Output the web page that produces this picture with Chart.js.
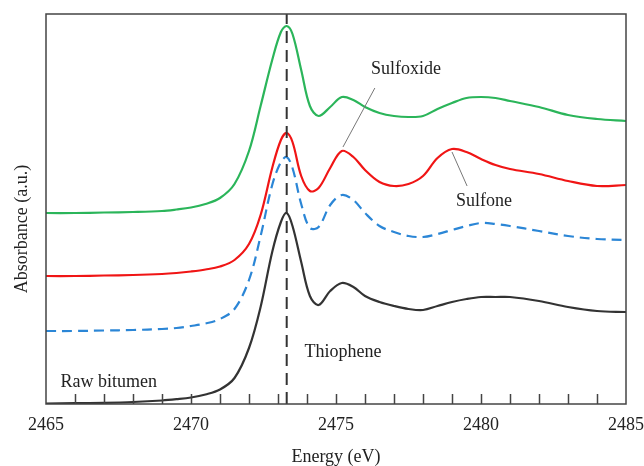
<!DOCTYPE html>
<html>
<head>
<meta charset="utf-8">
<script src="https://cdn.jsdelivr.net/npm/chart.js@4.4.1/dist/chart.umd.min.js"></script>
<style>
  html, body { margin: 0; padding: 0; background: #fff; }
  #c { display: block; }
</style>
</head>
<body>
<canvas id="c" width="644" height="466"></canvas>
<script>
// Energy grid (eV)
const energy = [2465, 2466, 2467, 2468, 2469, 2469.5, 2470, 2470.5, 2471, 2471.5,
  2472, 2472.4, 2472.8, 2473.1, 2473.3, 2473.5, 2473.8, 2474.1, 2474.4, 2474.8,
  2475.2, 2475.6, 2476, 2476.5, 2477, 2477.5, 2478, 2478.5, 2479, 2479.5,
  2480, 2480.5, 2481, 2482, 2483, 2484, 2485];

// Absorbance (a.u., stacked offsets as in figure)
const rawBitumen = [0.5, 0.8, 1.2, 2, 3.5, 4.8, 6.5, 9.5, 14.5, 26,
  56, 97, 152, 182, 191, 178, 142, 108, 99, 113,
  121, 117, 108, 102, 98, 95, 94, 98, 102, 105,
  107, 107, 107, 103, 97, 93, 92];
const dashedSeries = [73, 73, 73.5, 74, 75, 76, 78, 80.5, 85, 95,
  124, 168, 219, 242, 247, 236, 200, 176, 177, 199,
  209, 204, 191, 178, 172, 168, 167, 170, 174, 178,
  181, 180, 178, 173, 168, 165, 164];
const redSeries = [128, 128, 128.5, 129, 130, 131, 132.5, 134.5, 137.5, 144,
  160, 189, 236, 264, 271, 262, 228, 213, 216, 236,
  253, 247, 234, 222, 218, 220, 228, 246, 255, 252,
  245, 239, 235, 230, 223, 218, 219];
const greenSeries = [191, 191, 191.5, 192, 193, 194.5, 196.5, 200, 206, 220,
  253, 298, 344, 372, 378, 370, 334, 298, 288, 297,
  307, 304, 297, 291, 288, 287, 288, 295, 301, 306,
  307, 306, 303, 297, 289, 285, 283];

const thiopheneLine = 2473.3;
const xTickLabels = [2465, 2470, 2475, 2480, 2485];
const minorTicks = [2466,2467,2468,2469,2470,2471,2472,2473,2474,2475,2476,2477,2478,2479,2480,2481,2482,2483,2484];

const yMin = 0, yMax = 390;

const yTitle = 'Absorbance (a.u.)';
const annotations = [
  { text: 'Sulfoxide', x: 2477.41, y: 335 },
  { text: 'Sulfone', x: 2480.10, y: 203 },
  { text: 'Thiophene', x: 2475.24, y: 52 },
  { text: 'Raw bitumen', x: 2467.16, y: 22 }
];
const leaders = [
  { from: [2476.34, 316], to: [2475.24, 257] },
  { from: [2479.0, 252], to: [2479.52, 218] }
];

const toXY = (vals) => energy.map((e, i) => ({ x: e, y: vals[i] }));

const SERIF = '"Liberation Serif", "Times New Roman", serif';

const framePlugin = {
  id: 'frame',
  afterDatasetsDraw(chart) {
    const { ctx, chartArea: a, scales: { x, y } } = chart;
    ctx.save();
    // leader lines
    ctx.strokeStyle = '#777';
    ctx.lineWidth = 1;
    leaders.forEach(l => {
      ctx.beginPath();
      ctx.moveTo(x.getPixelForValue(l.from[0]), y.getPixelForValue(l.from[1]));
      ctx.lineTo(x.getPixelForValue(l.to[0]), y.getPixelForValue(l.to[1]));
      ctx.stroke();
    });
    // frame
    ctx.strokeStyle = '#444';
    ctx.lineWidth = 1.5;
    ctx.strokeRect(a.left, a.top, a.right - a.left, a.bottom - a.top);
    // inward ticks
    ctx.beginPath();
    minorTicks.forEach(v => {
      const px = Math.round(x.getPixelForValue(v)) + 0.5;
      ctx.moveTo(px, a.bottom);
      ctx.lineTo(px, a.bottom - 10);
    });
    ctx.stroke();
    // text annotations
    ctx.fillStyle = '#222';
    ctx.font = '18px ' + SERIF;
    ctx.textAlign = 'center';
    ctx.textBaseline = 'middle';
    annotations.forEach(t => {
      ctx.fillText(t.text, x.getPixelForValue(t.x), y.getPixelForValue(t.y));
    });
    // y-axis title
    ctx.translate(22, (a.top + a.bottom) / 2 + 20);
    ctx.rotate(-Math.PI / 2);
    ctx.font = '18px ' + SERIF;
    ctx.fillText(yTitle, 0, 0);
    ctx.restore();
  }
};

const common = { pointRadius: 0, borderWidth: 2.2, tension: 0.35, fill: false, order: 1 };

new Chart(document.getElementById('c'), {
  type: 'line',
  data: {
    datasets: [
      { label: 'Thiophene position', data: [{ x: thiopheneLine, y: yMin }, { x: thiopheneLine, y: yMax }],
        borderColor: '#333', borderWidth: 2, borderDash: [12, 7], pointRadius: 0, order: 0 },
      Object.assign({ label: 'Oxidized (green)', data: toXY(greenSeries), borderColor: '#2bb55a' }, common),
      Object.assign({ label: 'Oxidized (red)', data: toXY(redSeries), borderColor: '#f01515' }, common),
      Object.assign({ label: 'Dashed', data: toXY(dashedSeries), borderColor: '#2b86d6', borderDash: [10, 6] }, common),
      Object.assign({ label: 'Raw bitumen', data: toXY(rawBitumen), borderColor: '#333333' }, common)
    ]
  },
  options: {
    responsive: false,
    animation: false,
    devicePixelRatio: 1,
    layout: { padding: { left: 0, right: 18, top: 14, bottom: 0 } },
    plugins: { legend: { display: false }, tooltip: { enabled: false } },
    scales: {
      x: {
        type: 'linear', min: 2465, max: 2485,
        afterBuildTicks: (s) => { s.ticks = xTickLabels.map(v => ({ value: v })); },
        afterFit: (s) => { s.height = 62; s.paddingLeft = 0; s.paddingRight = 0; },
        grid: { display: false, drawTicks: false },
        border: { display: false },
        ticks: { padding: 10, color: '#222', font: { family: SERIF, size: 18 }, maxRotation: 0, autoSkip: false,
                 callback: (v) => String(v) },
        title: { display: true, text: 'Energy (eV)', color: '#222', font: { family: SERIF, size: 18, lineHeight: 1 }, padding: { top: 0, bottom: 0 } }
      },
      y: {
        min: yMin, max: yMax,
        afterFit: (s) => { s.width = 46; },
        grid: { display: false, drawTicks: false },
        border: { display: false },
        ticks: { display: false },
        title: { display: false }
      }
    }
  },
  plugins: [framePlugin]
});
</script>
</body>
</html>
